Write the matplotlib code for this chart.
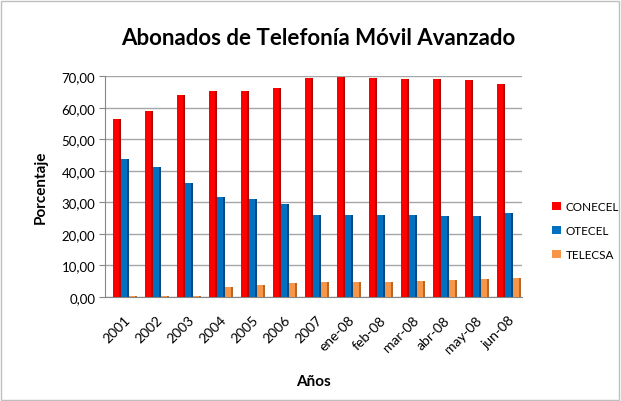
import numpy as np
import matplotlib.pyplot as plt
from matplotlib.patches import Rectangle

# ─── data ────────────────────────────────────────────────────────────────────
periodos = ["2001", "2002", "2003", "2004", "2005", "2006", "2007",
            "ene-08", "feb-08", "mar-08", "abr-08", "may-08", "jun-08"]
conecel = [56.5, 59.0, 64.0, 65.4, 65.4, 66.4, 69.5, 69.6, 69.5, 69.1, 69.0, 68.8, 67.4]
otecel = [43.8, 41.2, 36.0, 31.7, 31.1, 29.4, 26.1, 25.9, 25.9, 25.9, 25.8, 25.8, 26.7]
telecsa = [0.2, 0.2, 0.3, 3.0, 3.7, 4.3, 4.6, 4.8, 4.8, 5.1, 5.4, 5.8, 6.1]
y_ticks = [0, 10, 20, 30, 40, 50, 60, 70]

SERIES = [
    ("CONECEL", conecel, "#ff0000", "#b00000"),
    ("OTECEL", otecel, "#0070c0", "#004a80"),
    ("TELECSA", telecsa, "#f79646", "#b8672a"),
]

plt.rcParams.update({
    "font.family": ["Lato", "DejaVu Sans"],
    "font.size": 9.5,
})

fig = plt.figure(figsize=(6.21, 4.02), dpi=100)
# thin grey frame round the whole chart
fig.add_artist(Rectangle((0.002, 0.003), 0.995, 0.993, transform=fig.transFigure,
                         fill=False, edgecolor="#bfbfbf", linewidth=1.0))
ax = fig.add_axes([0.169, 0.259, 0.672, 0.549])

x = np.arange(len(periodos))
w = 0.25
for i, (name, vals, col, dark) in enumerate(SERIES):
    pos = x + (i - 1) * w
    # darker side face, then the front face, for a faint 3D look
    ax.bar(pos + 0.03, vals, width=w, color=dark, align="center", zorder=2)
    ax.bar(pos - 0.01, vals, width=w - 0.06, color=col, align="center",
           zorder=3, label=name)

ax.set_xlim(-0.6, len(periodos) - 0.55)
ax.set_ylim(0, 70)
ax.set_yticks(y_ticks)
ax.set_yticklabels([f"{t:.2f}".replace(".", ",") for t in y_ticks])
ax.set_xticks(x)
ax.set_xticklabels(periodos, rotation=45, ha="right", rotation_mode="anchor",
                   fontsize=10)
ax.tick_params(axis="x", length=0, pad=12)
ax.tick_params(axis="y", length=4, color="#868686", pad=3)
ax.yaxis.grid(True, color="#a6a6a6", linewidth=1.0, zorder=0)
ax.set_axisbelow(True)
for s in ["top", "right"]:
    ax.spines[s].set_visible(False)
for s in ["left", "bottom"]:
    ax.spines[s].set_color("#868686")

ax.set_ylabel("Porcentaje", fontsize=11, fontweight="bold", labelpad=10)
ax.set_xlabel("Años", fontsize=11, fontweight="bold", labelpad=14)
fig.text(0.513, 0.905, "Abonados de Telefonía Móvil Avanzado",
         ha="center", va="center", fontsize=16, fontweight="bold")

ax.legend(loc="center left", bbox_to_anchor=(1.06, 0.3), borderaxespad=0,
          frameon=False, handlelength=0.75, handleheight=0.75,
          handletextpad=0.4, labelspacing=1.1, fontsize=8.5)

fig.savefig("out.png", dpi=100)
